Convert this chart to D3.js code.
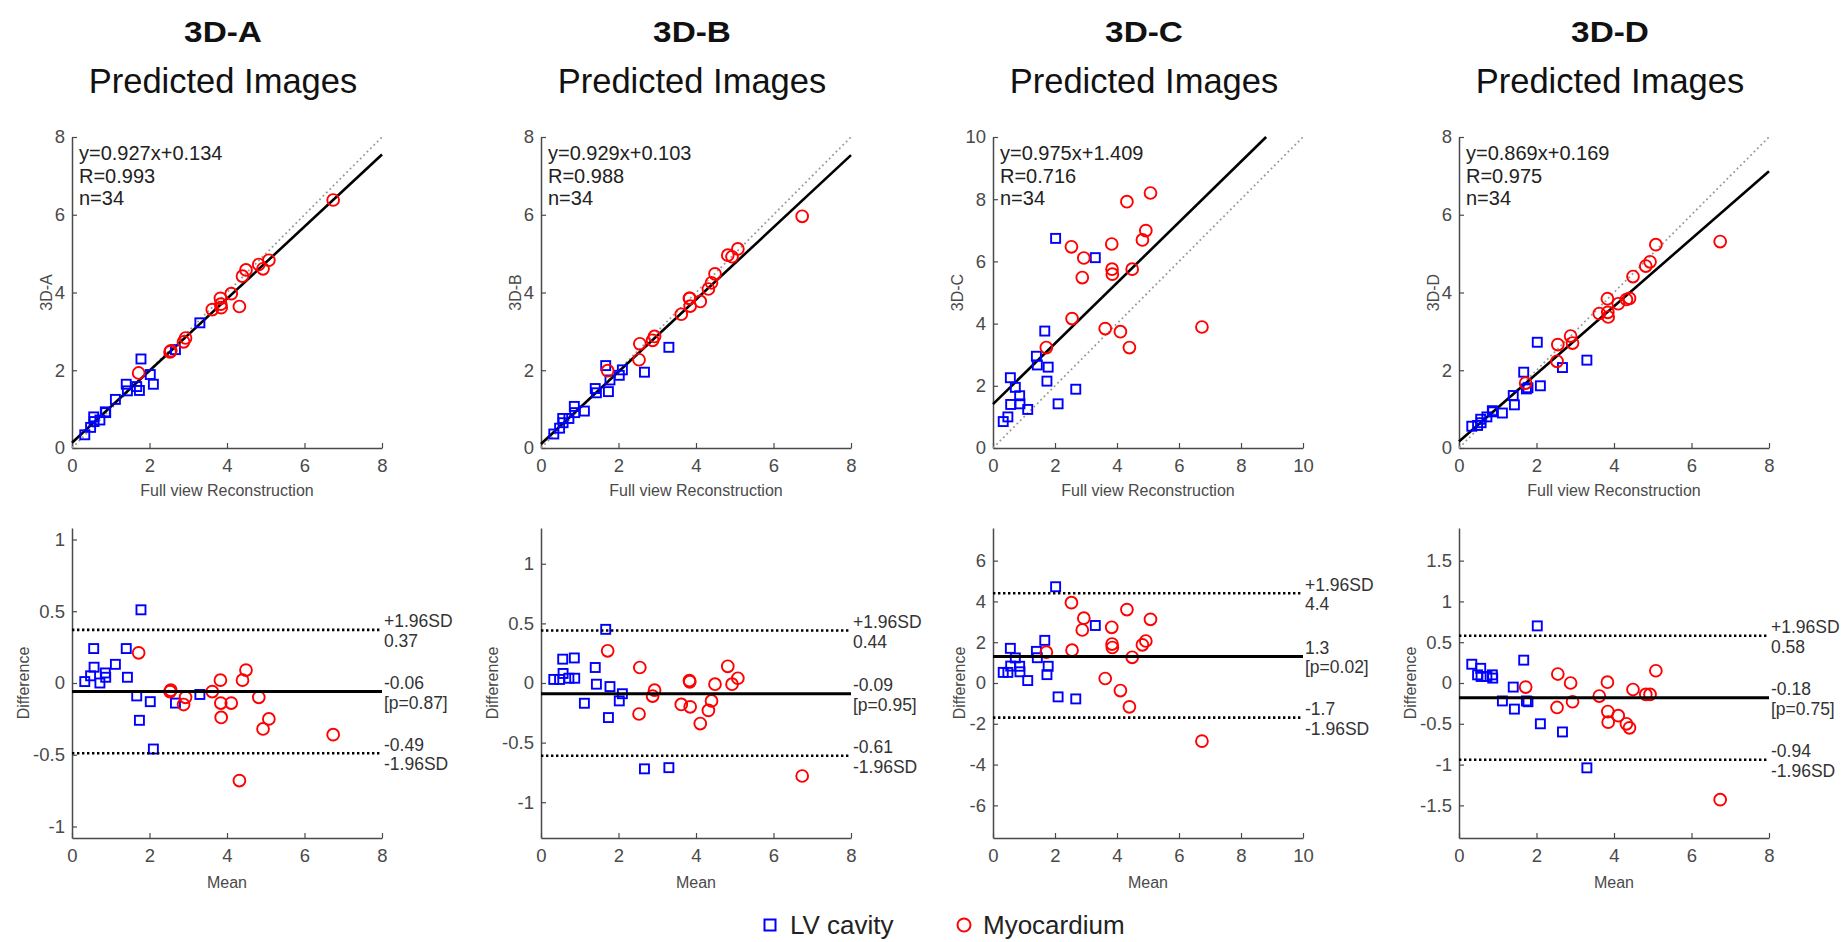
<!DOCTYPE html>
<html><head><meta charset="utf-8">
<script src="https://cdn.jsdelivr.net/npm/d3@7"></script>
<style>
body{margin:0;background:#fff;}
text{font-family:"Liberation Sans",Arial,Helvetica,sans-serif;}
</style>
</head><body>
<svg id="chart" width="1843" height="942"></svg>
<script>
// ---------------- data ----------------
const methods = ["3D-A", "3D-B", "3D-C", "3D-D"];
const subtitle = "Predicted Images";
const seriesNames = ["LV cavity", "Myocardium"];

// Full view reconstruction values (reference)
const fullLV  = [0.33,0.48,0.56,0.57,0.72,0.86,0.87,1.12,1.40,1.43,1.67,1.74,1.78,2.02,2.10,2.67,3.30];
const fullMyo = [1.72,2.53,2.55,2.88,2.93,3.62,3.83,3.84,3.85,4.11,4.32,4.40,4.49,4.82,4.93,5.08,6.74];

// Predicted values per method
const predLV_A  = [0.34,0.53,0.80,0.68,0.72,0.93,0.91,1.25,1.64,1.47,1.58,1.48,2.29,1.89,1.64,2.53,3.22];
const predMyo_A = [1.93,2.47,2.50,2.73,2.83,3.56,3.85,3.70,3.61,3.97,3.64,4.42,4.58,4.72,4.61,4.83,6.38];
const predLV_B  = [0.36,0.51,0.76,0.65,0.76,1.07,0.91,0.95,1.53,1.42,2.12,1.45,1.75,1.87,2.01,1.95,2.59];
const predMyo_B = [1.99,2.27,2.68,2.77,2.87,3.44,3.85,3.85,3.65,3.77,4.09,4.25,4.48,4.96,4.92,5.12,5.96];
const predLV_C  = [0.85,1.00,2.26,1.40,1.95,1.68,1.42,1.24,2.95,2.67,3.76,2.15,2.60,6.74,1.42,1.89,6.12];
const predMyo_C = [3.23,6.47,4.16,5.48,6.11,3.84,6.56,5.75,5.59,3.74,7.92,3.23,5.75,6.69,6.99,8.20,3.89];
const predLV_D  = [0.56,0.58,0.74,0.65,0.80,0.96,0.93,0.90,1.35,1.11,1.95,1.52,1.55,2.72,1.60,2.07,2.26];
const predMyo_D = [1.67,2.23,2.66,2.88,2.70,3.46,3.84,3.49,3.37,3.71,3.82,3.85,4.41,4.68,4.79,5.23,5.31];

const predLV  = [predLV_A, predLV_B, predLV_C, predLV_D];
const predMyo = [predMyo_A, predMyo_B, predMyo_C, predMyo_D];

// Regression statistics
const slopes     = [0.927, 0.929, 0.975, 0.869];
const intercepts = [0.134, 0.103, 1.409, 0.169];
const rValues    = ["0.993", "0.988", "0.716", "0.975"];
const nValues    = [34, 34, 34, 34];

// Bland-Altman statistics
const biasValues  = [-0.06, -0.09, 1.3, -0.18];
const upperLoA    = [0.37, 0.44, 4.4, 0.58];
const lowerLoA    = [-0.49, -0.61, -1.7, -0.94];
const biasLabels  = ["-0.06", "-0.09", "1.3", "-0.18"];
const upperLabels = ["0.37", "0.44", "4.4", "0.58"];
const lowerLabels = ["-0.49", "-0.61", "-1.7", "-0.94"];
const pLabels     = ["[p=0.87]", "[p=0.95]", "[p=0.02]", "[p=0.75]"];

// Axes
const scatterMax   = [8, 8, 10, 8];
const scatterTicks = [[0,2,4,6,8],[0,2,4,6,8],[0,2,4,6,8,10],[0,2,4,6,8]];
const baYLimit     = [1.08, 1.3, 7.6, 1.9];
const baYTicks     = [[-1,-0.5,0,0.5,1],[-1,-0.5,0,0.5,1],[-6,-4,-2,0,2,4,6],[-1.5,-1,-0.5,0,0.5,1,1.5]];
const xLabelTop = "Full view Reconstruction";
const xLabelBA  = "Mean";
const yLabelBA  = "Difference";

// ---------------- layout ----------------
const svg = d3.select("#chart");
const colLeft = [72, 541, 993, 1459];
const plotW = 310;
const topY0 = 137, topY1 = 448;
const baY0 = 528, baY1 = 838;
const BLUE = "#0000ff", RED = "#ff0000";
const AXC = "#4a4a4a";

function styleAxis(g) {
  g.select(".domain").attr("stroke", AXC).attr("stroke-width", 1.5);
  g.selectAll(".tick line").attr("stroke", AXC).attr("stroke-width", 1.2);
  g.selectAll(".tick text").attr("fill", "#4a4a4a").attr("font-size", 18.5)
    .attr("font-family", "'Liberation Sans',Arial,sans-serif");
}
function fmt(v) { return String(v); }

function drawAxes(xs, ys, xt, yt, yBottom, left) {
  const gx = svg.append("g").attr("transform", `translate(0,${yBottom})`)
    .call(d3.axisBottom(xs).tickValues(xt).tickFormat(fmt).tickSizeInner(-5).tickSizeOuter(0).tickPadding(11));
  styleAxis(gx);
  const gy = svg.append("g").attr("transform", `translate(${left},0)`)
    .call(d3.axisLeft(ys).tickValues(yt).tickFormat(fmt).tickSizeInner(-5).tickSizeOuter(0).tickPadding(7));
  styleAxis(gy);
  let maxW = 0;
  gy.selectAll(".tick text").each(function(){ maxW = Math.max(maxW, this.getComputedTextLength()); });
  return maxW;
}

function drawPoints(g, xsArr, ysArr, xs, ys, kind) {
  if (kind === "sq") {
    g.selectAll(null).data(xsArr.map((x, k) => [x, ysArr[k]])).enter().append("rect")
      .attr("x", d => xs(d[0]) - 4.5).attr("y", d => ys(d[1]) - 4.5)
      .attr("width", 9).attr("height", 9)
      .attr("fill", "none").attr("stroke", BLUE).attr("stroke-width", 1.9);
  } else {
    g.selectAll(null).data(xsArr.map((x, k) => [x, ysArr[k]])).enter().append("circle")
      .attr("cx", d => xs(d[0])).attr("cy", d => ys(d[1])).attr("r", 5.9)
      .attr("fill", "none").attr("stroke", RED).attr("stroke-width", 1.9);
  }
}

methods.forEach((m, i) => {
  const left = colLeft[i];
  const cx = left + plotW / 2;

  // Titles
  svg.append("text").attr("transform", `translate(${cx - 4},42) scale(1.15,1)`)
    .attr("text-anchor", "middle")
    .attr("font-size", 29).attr("font-weight", "bold").attr("fill", "#111").text(m);
  svg.append("text").attr("x", cx - 4).attr("y", 93).attr("text-anchor", "middle")
    .attr("font-size", 34.5).attr("fill", "#111").text(subtitle);

  // ---------- scatter ----------
  const mx = scatterMax[i];
  const xs = d3.scaleLinear().domain([0, mx]).range([left, left + plotW]);
  const ys = d3.scaleLinear().domain([0, mx]).range([topY1, topY0]);
  const wTop = drawAxes(xs, ys, scatterTicks[i], scatterTicks[i], topY1, left);

  // identity line
  svg.append("line").attr("x1", xs(0)).attr("y1", ys(0)).attr("x2", xs(mx)).attr("y2", ys(mx))
    .attr("stroke", "#9a9a9a").attr("stroke-width", 1.8).attr("stroke-dasharray", "1.8,3");
  // regression line
  const xEnd = Math.min(mx, (mx - intercepts[i]) / slopes[i]);
  svg.append("line").attr("x1", xs(0)).attr("y1", ys(intercepts[i]))
    .attr("x2", xs(xEnd)).attr("y2", ys(slopes[i] * xEnd + intercepts[i]))
    .attr("stroke", "#000").attr("stroke-width", 2.6);

  const gp = svg.append("g");
  drawPoints(gp, fullLV, predLV[i], xs, ys, "sq");
  drawPoints(gp, fullMyo, predMyo[i], xs, ys, "ci");

  // stats text
  const stats = [`y=${slopes[i].toFixed(3)}x+${intercepts[i].toFixed(3)}`, `R=${rValues[i]}`, `n=${nValues[i]}`];
  stats.forEach((s, k) => {
    svg.append("text").attr("x", left + 7).attr("y", 160 + k * 22.7)
      .attr("font-size", 20).attr("fill", "#222").text(s);
  });

  // axis labels
  svg.append("text").attr("x", cx).attr("y", 496).attr("text-anchor", "middle")
    .attr("font-size", 16).attr("fill", "#4a4a4a").text(xLabelTop);
  svg.append("text").attr("transform", `translate(${left - wTop - 15},${(topY0 + topY1) / 2}) rotate(-90)`)
    .attr("text-anchor", "middle").attr("dominant-baseline", "central")
    .attr("font-size", 16).attr("fill", "#4a4a4a").text(m);

  // ---------- Bland-Altman ----------
  const lim = baYLimit[i];
  const bx = d3.scaleLinear().domain([0, mx]).range([left, left + plotW]);
  const by = d3.scaleLinear().domain([-lim, lim]).range([baY1, baY0]);
  const wBA = drawAxes(bx, by, scatterTicks[i], baYTicks[i], baY1, left);

  const gb = svg.append("g");
  drawPoints(gb, fullLV, predLV[i].map((p, k) => p - fullLV[k]), bx, by, "sq");
  drawPoints(gb, fullMyo, predMyo[i].map((p, k) => p - fullMyo[k]), bx, by, "ci");

  const hl = (v, dotted) => svg.append("line")
    .attr("x1", bx(0)).attr("x2", bx(mx)).attr("y1", by(v)).attr("y2", by(v))
    .attr("stroke", "#000").attr("stroke-width", dotted ? 2.6 : 3)
    .attr("stroke-dasharray", dotted ? "2.4,2.6" : null);
  hl(upperLoA[i], true);
  hl(lowerLoA[i], true);
  hl(biasValues[i], false);

  const lx = bx(mx) + 2;
  const lab = (v, above, t) => svg.append("text").attr("x", lx)
    .attr("y", by(v) + (above ? -2.5 : 17)).attr("font-size", 17.5).attr("fill", "#333").text(t);
  lab(upperLoA[i], true, "+1.96SD");
  lab(upperLoA[i], false, upperLabels[i]);
  lab(biasValues[i], true, biasLabels[i]);
  lab(biasValues[i], false, pLabels[i]);
  lab(lowerLoA[i], true, lowerLabels[i]);
  lab(lowerLoA[i], false, "-1.96SD");

  svg.append("text").attr("x", cx).attr("y", 888).attr("text-anchor", "middle")
    .attr("font-size", 16).attr("fill", "#4a4a4a").text(xLabelBA);
  svg.append("text").attr("transform", `translate(${left - wBA - 17},${(baY0 + baY1) / 2}) rotate(-90)`)
    .attr("text-anchor", "middle").attr("dominant-baseline", "central")
    .attr("font-size", 16).attr("fill", "#4a4a4a").text(yLabelBA);
});

// ---------------- legend ----------------
const lg = svg.append("g");
lg.append("rect").attr("x", 770 - 5.5).attr("y", 925 - 5.5).attr("width", 11).attr("height", 11)
  .attr("fill", "none").attr("stroke", BLUE).attr("stroke-width", 2);
lg.append("text").attr("x", 790).attr("y", 934).attr("font-size", 26).attr("fill", "#222").text(seriesNames[0]);
lg.append("circle").attr("cx", 964).attr("cy", 925).attr("r", 6.5)
  .attr("fill", "none").attr("stroke", RED).attr("stroke-width", 2);
lg.append("text").attr("x", 983).attr("y", 934).attr("font-size", 26).attr("fill", "#222").text(seriesNames[1]);
</script>
</body></html>
